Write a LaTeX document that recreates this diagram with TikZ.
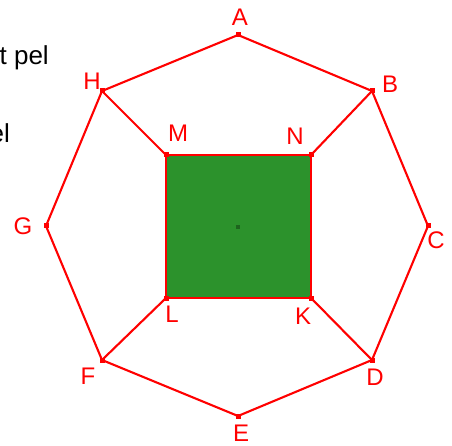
\documentclass[tikz,border=0pt]{standalone}
\usepackage{fontspec}
\setmainfont{Liberation Sans}
\usetikzlibrary{positioning}
\definecolor{sqgreen}{RGB}{44,146,44}
\definecolor{dotgreen}{RGB}{30,100,30}

\begin{document}
\begin{tikzpicture}[x=1pt,y=-1pt,
  seg/.style={red,line width=2.1pt,line join=round},
  pt/.style={fill=red,minimum size=5pt,inner sep=0pt,rectangle},
  lbl/.style={red,font=\fontsize{24}{28}\selectfont,inner sep=0pt},
  txt/.style={black,font=\fontsize{26}{30}\selectfont,inner sep=0pt}]
  \useasboundingbox (0,0) rectangle (452,446);
  % cut off text on the left
  \node[txt,anchor=base east] (t1) at (49,65) {t pel};
  \node[txt,anchor=base east] (t2) at (10,143) {el};
  % octagon vertices
  \coordinate (A) at (238,35);
  \coordinate (B) at (372,91);
  \coordinate (C) at (428,226);
  \coordinate (D) at (372,360);
  \coordinate (E) at (238,416);
  \coordinate (F) at (102,360);
  \coordinate (G) at (46,226);
  \coordinate (H) at (102,91);
  % square vertices
  \coordinate (M) at (166,155);
  \coordinate (N) at (311,155);
  \coordinate (K) at (311,298);
  \coordinate (L) at (166,298);
  \coordinate (O) at (238,227);
  % square
  \fill[sqgreen] (M) -- (N) -- (K) -- (L) -- cycle;
  \draw[seg] (M) -- (N) -- (K) -- (L) -- cycle;
  % octagon and spokes
  \draw[seg] (A) -- (B) -- (C) -- (D) -- (E) -- (F) -- (G) -- (H) -- cycle;
  \draw[seg] (H) -- (M);
  \draw[seg] (B) -- (N);
  \draw[seg] (D) -- (K);
  \draw[seg] (F) -- (L);
  % points
  \foreach \p in {A,B,C,D,E,F,G,H,M,N,K,L}
    \node[pt] at (\p) {};
  \node[pt,fill=dotgreen,minimum size=4.5pt] (o) at (O) {};
  % labels
  \node[lbl] (lA) at (240,17) {A};
  \node[lbl] (lB) at (390,84) {B};
  \node[lbl] (lC) at (436,240) {C};
  \node[lbl] (lD) at (375,377) {D};
  \node[lbl] (lE) at (241,433) {E};
  \node[lbl] (lF) at (88,376) {F};
  \node[lbl] (lG) at (23,226) {G};
  \node[lbl] (lH) at (92,81) {H};
  \node[lbl] (lM) at (178,133) {M};
  \node[lbl] (lN) at (295,136) {N};
  \node[lbl] (lK) at (303,316) {K};
  \node[lbl] (lL) at (172,314) {L};
\end{tikzpicture}
\end{document}
